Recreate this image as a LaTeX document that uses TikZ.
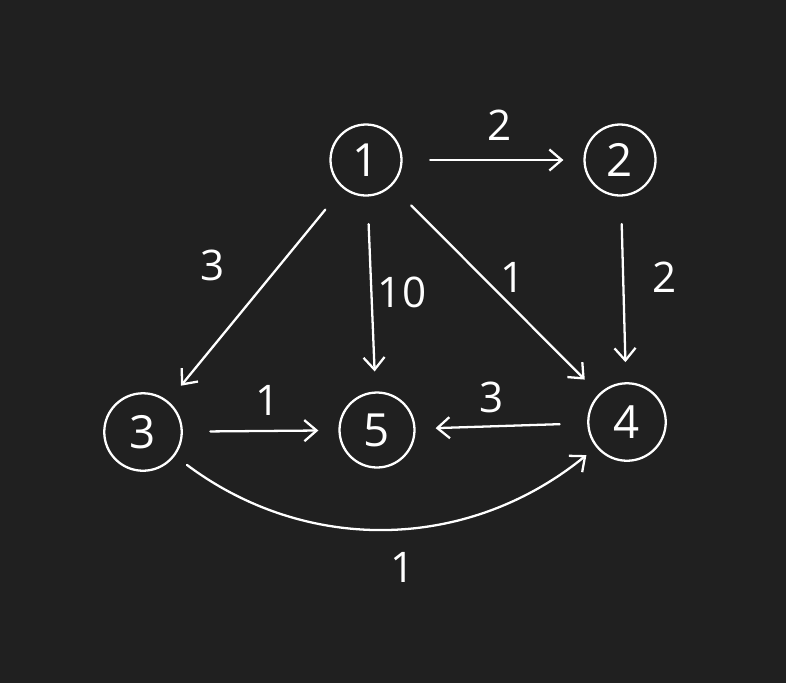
\documentclass[tikz,border=0pt]{standalone}
\usepackage{fontspec}
\setmainfont{Open Sans}
\usetikzlibrary{arrows.meta}
\definecolor{board}{RGB}{32,32,32}
\tikzset{
  vert/.style={circle, draw=white, line width=1.3pt, minimum size=1.42cm,
    inner sep=0pt, text=white, font=\fontsize{26}{26}\selectfont},
  edge/.style={draw=white, line width=1.3pt, line cap=round,
    -{Straight Barb[length=7pt,width=12pt,line width=1.3pt]},
    shorten <=0.55cm, shorten >=0.4cm},
  wt/.style={text=white, font=\fontsize{24}{24}\selectfont}
}
\begin{document}
\begin{tikzpicture}[x=0.02cm,y=-0.02cm]
  \fill[board] (0,0) rectangle (786,683);
  \node[vert] (n1) at (366,160) {1};
  \node[vert] (n2) at (620,160) {2};
  \node[vert, minimum size=1.55cm] (n3) at (143,432) {3};
  \node[vert, minimum size=1.5cm] (n5) at (377,430) {5};
  \node[vert, minimum size=1.55cm] (n4) at (627,422) {4};
  \draw[edge] (n1) -- (n2);
  \draw[edge] (n1) -- (n3);
  \draw[edge] (n1) -- (n5);
  \draw[edge] (n1) -- (n4);
  \draw[edge] (n2) -- (n4);
  \draw[edge] (n3) -- (n5);
  \draw[edge] (n4) -- (n5);
  \draw[edge, shorten <=0.3cm, shorten >=0.25cm] (n3) to[bend right=38] (n4);
  \node[wt] (w12) at (500,125) {2};
  \node[wt] (w13) at (213,265) {3};
  \node[wt] (w15) at (402,292) {10};
  \node[wt] (w14) at (513,277) {1};
  \node[wt] (w24) at (665,277) {2};
  \node[wt] (w35) at (268,400) {1};
  \node[wt] (w45) at (492,397) {3};
  \node[wt] (w34) at (403,567) {1};
\end{tikzpicture}
\end{document}
